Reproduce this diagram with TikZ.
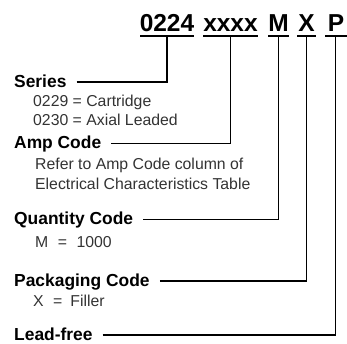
\documentclass[tikz,border=0pt]{standalone}
\usepackage{fontspec}
\setmainfont{Liberation Sans}
\definecolor{txtgray}{HTML}{333333}
\tikzset{
  titlechar/.style={anchor=base, inner sep=0, font=\bfseries\fontsize{24.5}{28}\selectfont},
  label/.style={anchor=west, inner sep=0, text height=12.4pt, text depth=1.6pt, font=\bfseries\fontsize{17.4}{20}\selectfont},
  desc/.style={anchor=base west, inner sep=0, text=txtgray, font=\fontsize{15.8}{21}\selectfont},
  uline/.style={line width=1.8pt},
  conn/.style={line width=1.2pt, shorten <=10pt},
}
\begin{document}
\begin{tikzpicture}[x=1pt,y=-1pt]
\useasboundingbox (0,0) rectangle (347,343);
% title code
\node[titlechar] (t1) at (167,31) {0224};
\node[titlechar] (t2) at (230.5,31) {xxxx};
\node[titlechar] (t3) at (278.5,31) {M};
\node[titlechar] (t4) at (306.5,31) {X};
\node[titlechar] (t5) at (336,31) {P};
% underlines
\draw[uline] (140,36) -- (194,36);
\draw[uline] (203,36) -- (258,36);
\draw[uline] (268,36) -- (289,36);
\draw[uline] (297,36) -- (316,36);
\draw[uline] (325,36) -- (347,36);
\coordinate (u1) at (167,36);
\coordinate (u2) at (230.5,36);
\coordinate (u3) at (278.5,36);
\coordinate (u4) at (306.5,36);
\coordinate (u5) at (335.5,36);
% labels
\node[label] (series) at (14,82) {Series};
\node[desc] (seriesd1) at (33,106) {0229 = Cartridge};
\node[desc] (seriesd2) at (33,125) {0230 = Axial Leaded};
\node[label] (amp) at (14,143.5) {Amp Code};
\node[desc] (ampd1) at (35,169) {Refer to Amp Code column of};
\node[desc] (ampd2) at (35,189) {Electrical Characteristics Table};
\node[label] (qty) at (14,219.5) {Quantity Code};
\node[desc] (qtyd) at (35,247) {M\hspace{0.6em}=\hspace{0.6em}1000};
\node[label] (pack) at (14,281) {Packaging Code};
\node[desc] (packd) at (33,306) {X\hspace{0.6em}=\hspace{0.5em}Filler};
\node[label] (lead) at (14,335) {Lead-free};
% connectors
\draw[conn] (series.east) -| (u1);
\draw[conn] (amp.east) -| (u2);
\draw[conn] (qty.east) -| (u3);
\draw[conn] (pack.east) -| (u4);
\draw[conn] (lead.east) -| (u5);
\end{tikzpicture}
\end{document}
